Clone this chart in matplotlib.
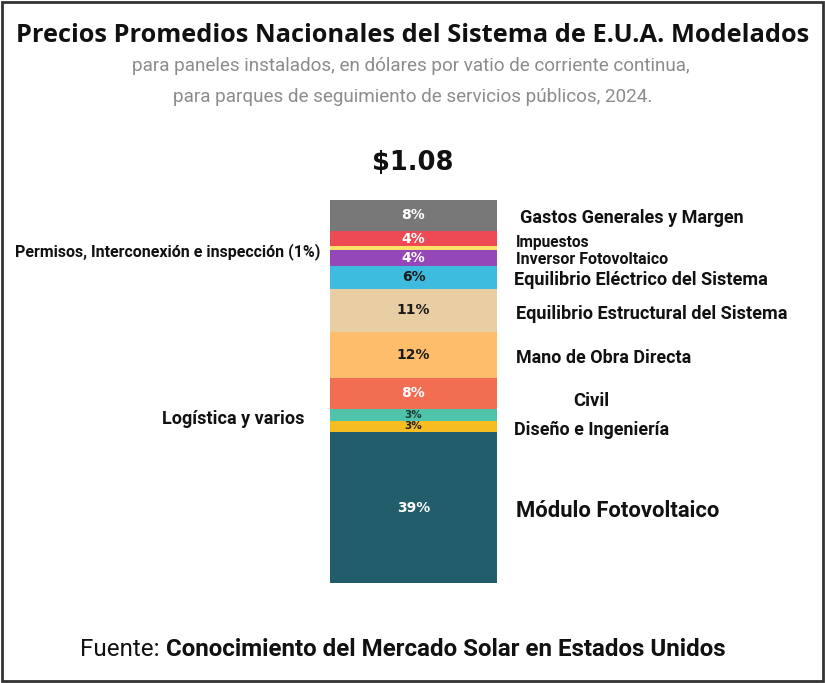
import matplotlib
matplotlib.use("Agg")
import matplotlib.pyplot as plt
from matplotlib.patches import Rectangle

# data, bottom to top
categories = ["Módulo Fotovoltaico", "Diseño e Ingeniería", "Logística y varios", "Civil",
              "Mano de Obra Directa", "Equilibrio Estructural del Sistema",
              "Equilibrio Eléctrico del Sistema", "Inversor Fotovoltaico",
              "Permisos, Interconexión e inspección", "Impuestos", "Gastos Generales y Margen"]
shares = [39, 3, 3, 8, 12, 11, 6, 4, 1, 4, 8]
colors = ["#225d6b", "#f6bd22", "#4fc4ab", "#f26e52", "#fdbd6b", "#e8cea2",
          "#3dbce0", "#9447b8", "#fde26a", "#ee4a53", "#787878"]
pct_colors = ["white", "#222222", "#1d3a33", "white", "#1a1a1a", "#1a1a1a",
              "#1a1a1a", "white", None, "white", "white"]
pct_sizes = [10, 7.5, 7.5, 10, 10, 10, 10, 10, 0, 10, 10]
total_price = "$1.08"

W, H = 825, 683
cond = ["Roboto", "DejaVu Sans"]
DY = 2  # small downward nudge for text centring

fig = plt.figure(figsize=(W / 100, H / 100), dpi=100)
fig.patch.set_facecolor("white")
renderer = fig.canvas.get_renderer()

def fx(px):
    return px / W

def fy(py):
    return 1 - py / H

def fit_text(txt, x0, x1, y, ha="left", **kw):
    """place text so that it spans roughly x0..x1 pixels"""
    xpos = {"left": x0, "right": x1, "center": (x0 + x1) / 2}[ha]
    t = fig.text(fx(xpos), fy(y + DY), txt, ha=ha, va="center", fontsize=12, **kw)
    w = t.get_window_extent(renderer).width
    t.set_fontsize(12 * (x1 - x0) / w)
    return t

# bar axes
ax = fig.add_axes([fx(330), fy(583), fx(497) - fx(330), (583 - 200) / H])
bottom = 0
for val, col, tc, ts in zip(shares, colors, pct_colors, pct_sizes):
    ax.bar(0, val, bottom=bottom, width=1, color=col, edgecolor="none")
    if tc is not None:
        ax.text(0, bottom + val / 2, f"{val}%", ha="center", va="center",
                color=tc, fontsize=ts, fontweight="bold", family="DejaVu Sans")
    bottom += val
ax.set_xlim(-0.5, 0.5)
ax.set_ylim(0, sum(shares))
ax.axis("off")

# right-side labels (x0, x1, y in pixels)
right_labels = [
    ("Gastos Generales y Margen", 520, 743, 216),
    ("Impuestos", 516, 590, 240),
    ("Inversor Fotovoltaico", 516, 668, 257),
    ("Equilibrio Eléctrico del Sistema", 514, 766, 278),
    ("Equilibrio Estructural del Sistema", 516, 786, 312),
    ("Mano de Obra Directa", 516, 690, 356),
    ("Civil", 573, 609, 399),
    ("Diseño e Ingeniería", 514, 668, 428),
    ("Módulo Fotovoltaico", 516, 718, 509),
]
for txt, x0, x1, y in right_labels:
    fit_text(txt, x0, x1, y, fontweight="bold", family=cond, color="#111111")

fit_text("Permisos, Interconexión e inspección (1%)", 14, 320, 250, ha="right",
         fontweight="bold", family=cond, color="#111111")
fit_text("Logística y varios", 163, 305, 417, ha="right",
         fontweight="bold", family=cond, color="#111111")

fig.text(fx(413), fy(163), total_price, ha="center", va="center", fontsize=18.5,
         fontweight="heavy", family="DejaVu Sans", color="#111111")

# title block
fit_text("Precios Promedios Nacionales del Sistema de E.U.A. Modelados", 18, 808, 33,
         ha="center", fontweight="bold", family=["Open Sans", "DejaVu Sans"], color="#111111")
fit_text("para paneles instalados, en dólares por vatio de corriente continua,", 131, 691, 64,
         ha="center", family=cond, color="#8c8c8c")
fit_text("para parques de seguimiento de servicios públicos, 2024.", 172, 653, 95,
         ha="center", family=cond, color="#8c8c8c")

# source line: regular prefix + bold name, fitted together
src = fig.text(fx(80), fy(648 + DY), "Fuente: ", ha="left", va="center", fontsize=18,
               family=cond, color="#111111")
name = fig.text(0, fy(648 + DY), "Conocimiento del Mercado Solar en Estados Unidos",
                ha="left", va="center", fontsize=18, fontweight="bold", family=cond,
                color="#111111")
w_total = src.get_window_extent(renderer).width + name.get_window_extent(renderer).width
fs = 18 * (726 - 80) / w_total
src.set_fontsize(fs)
name.set_fontsize(fs)
name.set_x(fx(80 + src.get_window_extent(renderer).width))

# frame
fig.add_artist(Rectangle((0.002, 0.003), 0.996, 0.994, transform=fig.transFigure,
                         fill=False, edgecolor="#333333", linewidth=2))

fig.savefig("out.png", dpi=100)
